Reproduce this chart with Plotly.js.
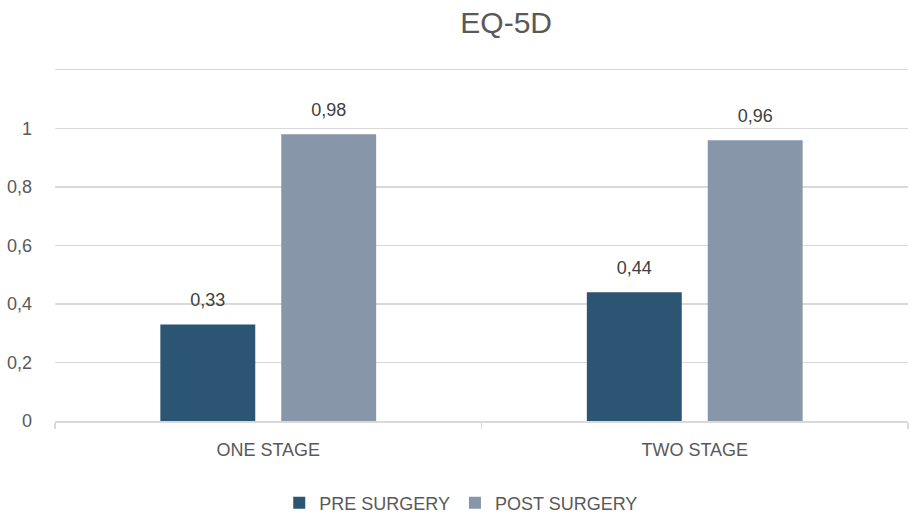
<!DOCTYPE html>
<html>
<head>
<meta charset="utf-8">
<script src="https://cdn.plot.ly/plotly-3.0.1.min.js"></script>
<style>
  html, body { margin: 0; padding: 0; background: #fff; }
  #chart { width: 917px; height: 524px; }
</style>
</head>
<body>
<div id="chart"></div>
<script>
const categories = ["ONE STAGE", "TWO STAGE"]
const seriesNames = ["PRE SURGERY", "POST SURGERY"]
const preSurgery = [0.33, 0.44]
const postSurgery = [0.98, 0.96]
const yTickVals = [0, 0.2, 0.4, 0.6, 0.8, 1, 1.2]
const yTickText = ["0", "0,2", "0,4", "0,6", "0,8", "1", ""]

const colors = ["#2b5572", "#8797a9"]
const textColor = "#595959"
const gridColor = "#d9d9d9"
const font = "Liberation Sans, Arial, sans-serif"

const fmt = v => v.toFixed(2).replace(".", ",")

const series = [preSurgery, postSurgery]

// bars
const data = series.map((vals, i) => ({
    type: "bar",
    name: seriesNames[i],
    x: categories,
    y: vals,
    marker: { color: colors[i] },
    hoverinfo: "skip"
}))

// value labels, grouped like the bars so they sit over them
series.forEach((vals, i) => {
    data.push({
        type: "scatter",
        mode: "markers+text",
        x: categories,
        y: vals,
        text: vals.map(fmt),
        textposition: "top center",
        textfont: { size: 18, color: "#404040", family: font },
        marker: { size: 20, opacity: 0 },
        showlegend: false,
        hoverinfo: "skip",
        cliponaxis: false
    })
})

const layout = {
    width: 917,
    height: 524,
    margin: { l: 55, r: 9, t: 70, b: 103 },
    paper_bgcolor: "#ffffff",
    plot_bgcolor: "#ffffff",
    font: { family: font, color: textColor, size: 18 },
    separators: ",.",
    barmode: "group",
    bargap: 0.433,
    bargroupgap: 0.215,
    scattermode: "group",
    scattergap: 0.433,
    title: {
        text: "EQ-5D",
        font: { size: 30, color: textColor, family: font },
        x: 0.552,
        xanchor: "center",
        y: 1 - 22 / 524,
        yanchor: "middle",
        yref: "container"
    },
    xaxis: {
        type: "category",
        showline: true,
        mirror: true,
        linecolor: gridColor,
        linewidth: 1.5,
        ticks: "outside",
        tickson: "boundaries",
        ticklen: 6,
        tickcolor: gridColor,
        tickwidth: 1.5,
        tickfont: { size: 18, color: textColor },
        ticklabelstandoff: 12,
        showgrid: false,
        zeroline: false
    },
    yaxis: {
        range: [0, 1.2],
        tickvals: yTickVals,
        ticktext: yTickText,
        tickfont: { size: 18, color: textColor },
        ticklabelstandoff: 22,
        showgrid: true,
        gridcolor: gridColor,
        gridwidth: 1.5,
        zeroline: false,
        showline: false,
        ticks: ""
    },
    showlegend: true,
    legend: {
        orientation: "h",
        x: 0.503,
        xanchor: "center",
        xref: "container",
        y: 1 - 503 / 524,
        yanchor: "middle",
        yref: "container",
        font: { size: 18, color: textColor },
        itemwidth: 30,
        itemclick: false,
        itemdoubleclick: false
    }
}

Plotly.newPlot("chart", data, layout, { staticPlot: true, displayModeBar: false })
</script>
</body>
</html>
